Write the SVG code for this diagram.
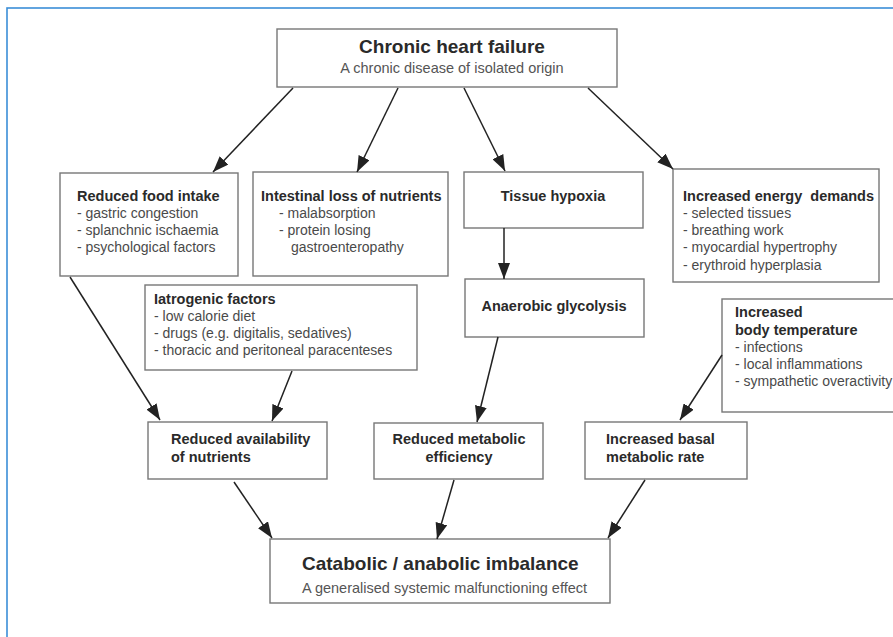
<svg xmlns="http://www.w3.org/2000/svg" width="893" height="637" viewBox="0 0 893 637">
<defs>
<marker id="arr" markerUnits="userSpaceOnUse" markerWidth="16" markerHeight="12" refX="16" refY="6" orient="auto">
<path d="M0,0 L16,6 L0,12 z" fill="#222"/>
</marker>
</defs>
<style>
.box{fill:#fff;stroke:#777;stroke-width:1.4}
.t{font-family:"Liberation Sans",Arial,sans-serif;font-size:14px;fill:#4a4a4a}
.b{font-family:"Liberation Sans",Arial,sans-serif;font-size:14.5px;font-weight:bold;fill:#2a2a2a}
.big{font-family:"Liberation Sans",Arial,sans-serif;font-size:19px;font-weight:bold;fill:#2a2a2a}
.sub{font-family:"Liberation Sans",Arial,sans-serif;font-size:14.5px;fill:#555}
.c{text-anchor:middle}
.con line{stroke:#222;stroke-width:1.5;marker-end:url(#arr)}
</style>
<rect x="0" y="0" width="893" height="637" fill="#fff"/>
<rect x="7" y="8" width="900" height="640" fill="none" stroke="#3b8ed8" stroke-width="1.6"/>

<g id="chf">
<rect class="box" x="277" y="29" width="340" height="58"/>
<text class="big c" x="452" y="53">Chronic heart failure</text>
<text class="sub c" x="452" y="73">A chronic disease of isolated origin</text>
</g>

<g id="food">
<rect class="box" x="60" y="173" width="178" height="103"/>
<text class="b" x="77" y="201">Reduced food intake</text>
<text class="t" x="77" y="218">- gastric congestion</text>
<text class="t" x="77" y="235">- splanchnic ischaemia</text>
<text class="t" x="77" y="252">- psychological factors</text>
</g>

<g id="intestinal">
<rect class="box" x="253" y="172" width="195" height="104"/>
<text class="b" x="261" y="201">Intestinal loss of nutrients</text>
<text class="t" x="279" y="218">- malabsorption</text>
<text class="t" x="279" y="235">- protein losing</text>
<text class="t" x="291" y="252">gastroenteropathy</text>
</g>

<g id="hypoxia">
<rect class="box" x="464" y="172" width="179" height="56"/>
<text class="b c" x="553" y="201">Tissue hypoxia</text>
</g>

<g id="anaerobic">
<rect class="box" x="465" y="279" width="179" height="58"/>
<text class="b c" x="554" y="311">Anaerobic glycolysis</text>
</g>

<g id="energy">
<rect class="box" x="673" y="169" width="206" height="113"/>
<text class="b" x="683" y="201" xml:space="preserve">Increased energy  demands</text>
<text class="t" x="683" y="218">- selected tissues</text>
<text class="t" x="683" y="235">- breathing work</text>
<text class="t" x="683" y="252">- myocardial hypertrophy</text>
<text class="t" x="683" y="270">- erythroid hyperplasia</text>
</g>

<g id="iatrogenic">
<rect class="box" x="145" y="285" width="272" height="85"/>
<text class="b" x="154" y="304">Iatrogenic factors</text>
<text class="t" x="154" y="321">- low calorie diet</text>
<text class="t" x="154" y="338">- drugs (e.g. digitalis, sedatives)</text>
<text class="t" x="154" y="355">- thoracic and peritoneal paracenteses</text>
</g>

<g id="temperature">
<rect class="box" x="722" y="299" width="200" height="113"/>
<text class="b" x="735" y="317">Increased</text>
<text class="b" x="735" y="335">body temperature</text>
<text class="t" x="735" y="352">- infections</text>
<text class="t" x="735" y="369">- local inflammations</text>
<text class="t" x="735" y="386">- sympathetic overactivity</text>
</g>

<g id="availability">
<rect class="box" x="148" y="422" width="179" height="57"/>
<text class="b" x="171" y="444">Reduced availability</text>
<text class="b" x="171" y="462">of nutrients</text>
</g>

<g id="efficiency">
<rect class="box" x="374" y="423" width="169" height="56"/>
<text class="b c" x="459" y="444">Reduced metabolic</text>
<text class="b c" x="459" y="462">efficiency</text>
</g>

<g id="basal">
<rect class="box" x="585" y="422" width="162" height="57"/>
<text class="b" x="606" y="444">Increased basal</text>
<text class="b" x="606" y="462">metabolic rate</text>
</g>

<g id="imbalance">
<rect class="box" x="270" y="539" width="340" height="64"/>
<text class="big" x="302" y="570">Catabolic / anabolic imbalance</text>
<text class="sub" x="302" y="593">A generalised systemic malfunctioning effect</text>
</g>

<g id="connectors" class="con">
<line x1="293" y1="88" x2="213" y2="172"/>
<line x1="398" y1="88" x2="357" y2="172"/>
<line x1="464" y1="88" x2="505" y2="171"/>
<line x1="588" y1="88" x2="673" y2="169"/>
<line x1="504" y1="228" x2="504" y2="279"/>
<line x1="70" y1="277" x2="160" y2="420"/>
<line x1="292" y1="371" x2="272" y2="421"/>
<line x1="498" y1="337" x2="477" y2="422"/>
<line x1="722" y1="355" x2="680" y2="420"/>
<line x1="234" y1="482" x2="272" y2="538"/>
<line x1="454" y1="480" x2="437" y2="539"/>
<line x1="645" y1="480" x2="608" y2="538"/>
</g>
</svg>
